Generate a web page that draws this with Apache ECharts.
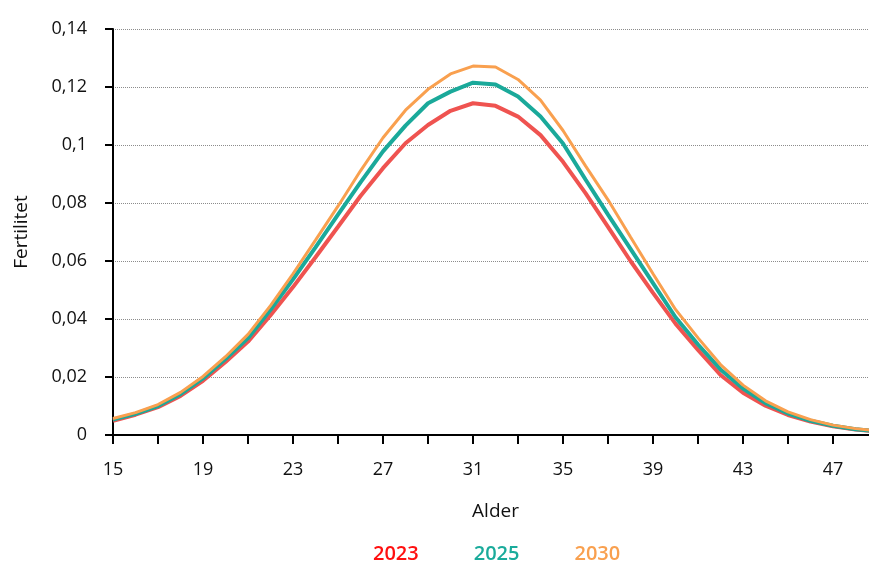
<!DOCTYPE html>
<html><head><meta charset="utf-8">
<script src="https://cdn.jsdelivr.net/npm/echarts@6/dist/echarts.min.js"></script>
<style>html,body{margin:0;padding:0;background:#fff}#c{width:869px;height:564px}</style>
</head><body><div id="c"></div>
<script>
const ages = [15,16,17,18,19,20,21,22,23,24,25,26,27,28,29,30,31,32,33,34,35,36,37,38,39,40,41,42,43,44,45,46,47,48,49];
const y2023 = [0.0049,0.0070,0.0096,0.0135,0.0187,0.0252,0.0322,0.0413,0.0510,0.0613,0.0718,0.0824,0.0920,0.1006,0.1069,0.1118,0.1144,0.1135,0.1098,0.1034,0.0942,0.0834,0.0718,0.0600,0.0490,0.0384,0.0293,0.0207,0.0146,0.0101,0.0069,0.0046,0.0030,0.0019,0.0012];
const y2025 = [0.0053,0.0073,0.0100,0.0141,0.0195,0.0262,0.0334,0.0432,0.0537,0.0647,0.0760,0.0871,0.0978,0.1067,0.1144,0.1184,0.1215,0.1209,0.1167,0.1098,0.1005,0.0881,0.0760,0.0642,0.0524,0.0406,0.0312,0.0226,0.0160,0.0110,0.0074,0.0049,0.0032,0.0020,0.0013];
const y2030 = [0.0057,0.0077,0.0105,0.0147,0.0202,0.0270,0.0347,0.0446,0.0556,0.0672,0.0789,0.0911,0.1025,0.1120,0.1192,0.1245,0.1272,0.1269,0.1226,0.1155,0.1050,0.0928,0.0811,0.0683,0.0556,0.0433,0.0335,0.0243,0.0172,0.0118,0.0080,0.0053,0.0034,0.0022,0.0014];
const seriesNames = ['2023','2025','2030'];
const yTicks = [0,0.02,0.04,0.06,0.08,0.1,0.12,0.14];

const FONT = '"Open Sans", "Noto Sans", sans-serif';
const lineColors = ['#ef5350','#1aa99a','#f9a04f'];
const legendColors = ['#ff1010','#1aab9b','#f9a04f'];
const widths = [4,4,3];
const datas = [y2023,y2025,y2030];

const chart = echarts.init(document.getElementById('c'));
chart.setOption({
  animation:false,
  textStyle:{fontFamily:FONT},
  grid:{left:113,right:-9,top:29,bottom:129,containLabel:false,outerBoundsMode:'none'},
  legend:{
    top:539,left:363,
    itemWidth:0,itemHeight:0,itemGap:50,
    icon:'rect',
    data:seriesNames.map((n,i)=>({name:n,textStyle:{color:legendColors[i],fontSize:20,fontWeight:600,fontFamily:FONT}})),
    selectedMode:false
  },
  xAxis:{
    type:'category',data:ages.map(String),boundaryGap:false,
    name:'Alder',nameLocation:'middle',nameGap:67,
    nameTextStyle:{color:'#111',fontSize:19,fontFamily:FONT},
    axisLine:{lineStyle:{color:'#000',width:2}},
    axisTick:{show:true,interval:1,length:9,lineStyle:{color:'#000',width:2}},
    axisLabel:{interval:3,color:'#111',fontSize:18,margin:26,fontFamily:FONT},
    splitLine:{show:false}
  },
  yAxis:{
    type:'value',min:0,max:0.14,interval:0.02,
    name:'Fertilitet',nameLocation:'middle',nameGap:82,nameRotate:90,
    nameTextStyle:{color:'#111',fontSize:19,fontFamily:FONT},
    axisLine:{show:true,lineStyle:{color:'#000',width:2}},
    axisTick:{show:true,length:8,lineStyle:{color:'#000',width:2}},
    axisLabel:{color:'#111',fontSize:18,margin:26,fontFamily:FONT,
      formatter:v=>{const t=yTicks.find(x=>Math.abs(x-v)<1e-9);return String(+(t!==undefined?t:v).toFixed(2)).replace('.',',');}},
    splitLine:{show:true,lineStyle:{color:'#8c8c8c',type:[1,1],width:1}}
  },
  series:seriesNames.map((n,i)=>({
    name:n,type:'line',data:datas[i],symbol:'none',smooth:false,
    lineStyle:{color:lineColors[i],width:widths[i]},
    itemStyle:{color:lineColors[i]},z:2+i
  }))
});
</script></body></html>
